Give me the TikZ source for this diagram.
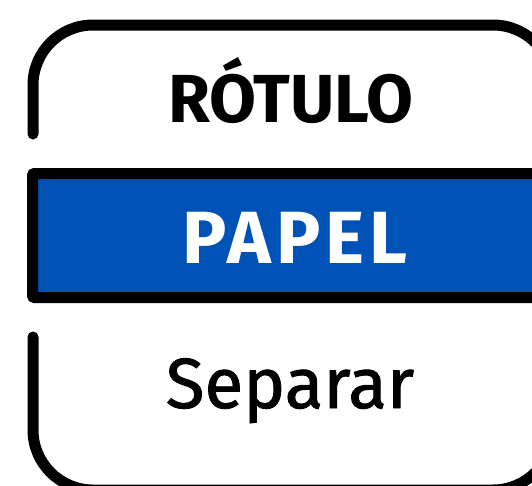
\documentclass[tikz,border=0pt]{standalone}
\usepackage{fontspec}
\setmainfont{Fira Sans}
\newfontfamily\boldfira{Fira Sans Bold}
\newfontfamily\papelfont[LetterSpace=6.5]{Fira Sans Bold}
\newfontfamily\sepfont[FakeBold=1.2]{Fira Sans}
\definecolor{bandblue}{RGB}{0,82,182}
\tikzset{
  outline/.style={line width=11pt, line cap=round, line join=round, rounded corners=60pt},
  band/.style={line width=11pt, draw=black, fill=bandblue, rounded corners=2pt},
  lbl/.style={anchor=base, inner sep=0pt}
}
\begin{document}
\begin{tikzpicture}[x=1pt,y=-1pt]
\useasboundingbox (0,0) rectangle (532,485);
\draw[outline] (33,134) -- (33,25) -- (553,25) -- (553,490) -- (33,490) -- (33,337);
\draw[band] (32.5,173.5) rectangle (600,297.5);
\node[lbl, font=\boldfira\fontsize{68}{68}\selectfont] (rotulo) at (291,122) {RÓTULO};
\node[lbl, font=\papelfont\fontsize{74}{74}\selectfont, text=white] (papel) at (295,263) {PAPEL};
\node[lbl, font=\sepfont\fontsize{71}{71}\selectfont] (separar) at (290,408) {Separar};
\end{tikzpicture}
\end{document}
